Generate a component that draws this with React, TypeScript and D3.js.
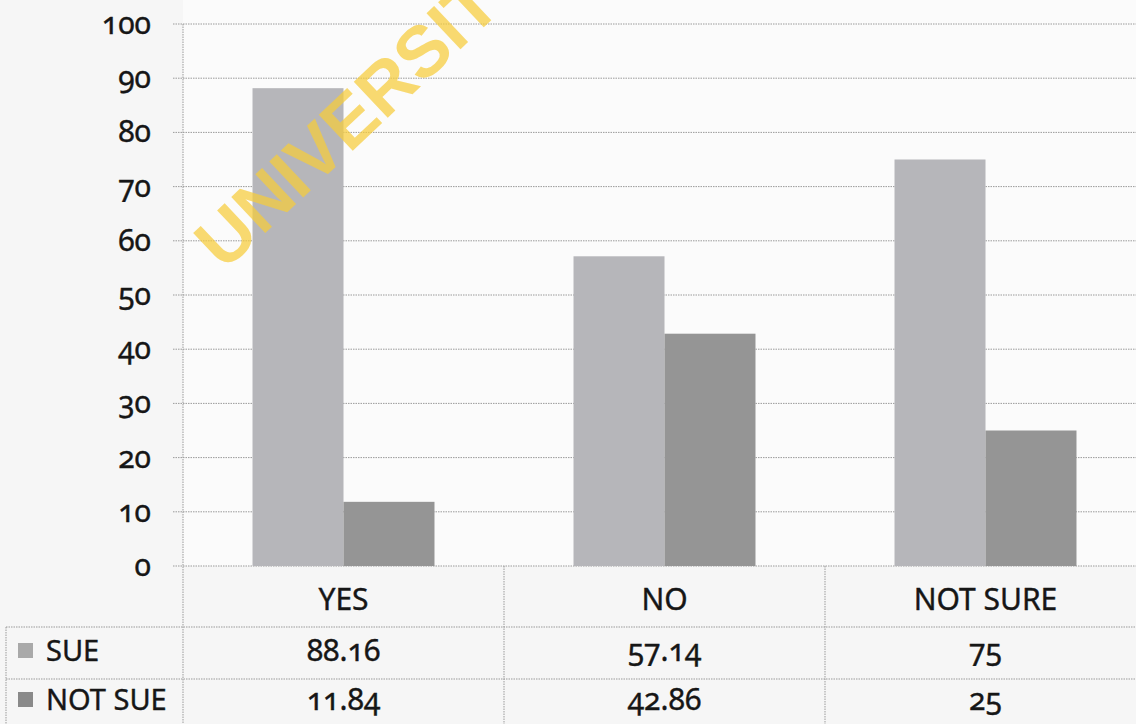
import React from "react";
import * as d3 from "d3";

const categories = ["YES", "NO", "NOT SURE"];
const seriesNames = ["SUE", "NOT SUE"];
const sueValues = [88.16, 57.14, 75];
const notSueValues = [11.84, 42.86, 25];
const sueLabels = ["88.16", "57.14", "75"];
const notSueLabels = ["11.84", "42.86", "25"];
const yTicks = [0, 10, 20, 30, 40, 50, 60, 70, 80, 90, 100];

const W = 1136;
const H = 724;
const plotLeft = 183;
const bandW = 321;
const y0 = 566;
const y100 = 24;
const colors = ["#b6b6ba", "#959595"];
const keyColors = ["#a9a9a9", "#8a8a8a"];
const FONT = "'Noto Sans', sans-serif";
const INK = "#161616";

export default function App() {
  const x0 = d3
    .scaleBand<string>()
    .domain(categories)
    .range([plotLeft, plotLeft + bandW * categories.length])
    .padding(0);
  const x1 = d3
    .scaleBand<string>()
    .domain(seriesNames)
    .range([0, x0.bandwidth()])
    .paddingInner(0)
    .paddingOuter(0.764);
  const y = d3.scaleLinear().domain([0, 100]).range([y0, y100]);
  const series = [sueValues, notSueValues];
  const rowLabels = [sueLabels, notSueLabels];
  const rowTop = [627, 679];
  const rowBase = [661, 710];

  const grid = "#9a9a9a";
  const textStyle = { fontVariantNumeric: "oldstyle-nums" as const };

  return (
    <svg
      width={W}
      height={H}
      style={{ position: "fixed", left: 0, top: 0, display: "block", background: "#f6f6f6" }}
      fontFamily={FONT}
    >
      <rect x={plotLeft} y={0} width={W - plotLeft} height={y0} fill="#fbfbfb" />
      {/* gridlines */}
      {yTicks.map((t) => (
        <g key={t}>
          <line
            x1={plotLeft - 10}
            x2={W}
            y1={y(t)}
            y2={y(t)}
            stroke={grid}
            strokeWidth={1}
            strokeDasharray="1.5 1"
          />
          <text
            x={151}
            y={y(t) + 10}
            textAnchor="end"
            fontSize={30}
            fill={INK}
            stroke={INK}
            strokeWidth={0.4}
            style={textStyle}
          >
            {t}
          </text>
        </g>
      ))}
      {/* vertical axis */}
      <line x1={plotLeft} x2={plotLeft} y1={y100} y2={H} stroke={grid} strokeDasharray="1.5 1" />
      {/* bars */}
      {categories.map((c, i) => (
        <g key={c} transform={`translate(${x0(c)},0)`}>
          {seriesNames.map((s, j) => (
            <rect
              key={s}
              x={x1(s)}
              y={y(series[j][i])}
              width={x1.bandwidth()}
              height={y0 - y(series[j][i])}
              fill={colors[j]}
            />
          ))}
        </g>
      ))}
      {/* table lines */}
      {categories.slice(1).map((c) => (
        <line key={c} x1={x0(c)} x2={x0(c)} y1={y0} y2={H} stroke={grid} strokeDasharray="1.5 1" />
      ))}
      <line x1={6} x2={6} y1={rowTop[0]} y2={H} stroke={grid} strokeDasharray="1.5 1" />
      {rowTop.map((r) => (
        <line key={r} x1={6} x2={W} y1={r} y2={r} stroke={grid} strokeDasharray="1.5 1" />
      ))}
      {/* category labels */}
      {categories.map((c) => (
        <text
          key={c}
          x={(x0(c) as number) + x0.bandwidth() / 2}
          y={610}
          textAnchor="middle"
          fontSize={30}
          fill={INK}
          stroke={INK}
          strokeWidth={0.4}
        >
          {c}
        </text>
      ))}
      {/* legend + values */}
      {seriesNames.map((s, j) => (
        <g key={s}>
          <rect x={18} y={rowBase[j] - 18} width={15} height={15} fill={keyColors[j]} />
          <text x={46} y={rowBase[j]} fontSize={29} fill={INK} stroke={INK} strokeWidth={0.4}>
            {s}
          </text>
          {categories.map((c, i) => (
            <text
              key={c}
              x={(x0(c) as number) + x0.bandwidth() / 2}
              y={rowBase[j]}
              textAnchor="middle"
              fontSize={30}
              fill={INK}
              stroke={INK}
              strokeWidth={0.4}
              style={textStyle}
            >
              {rowLabels[j][i]}
            </text>
          ))}
        </g>
      ))}
      {/* watermark */}
      <text
        transform="translate(224,272) rotate(-43.3)"
        fontFamily="'Liberation Sans', Arial, sans-serif"
        fontWeight="bold"
        fontSize={72}
        fill="#f7cd3c"
        opacity={0.72}
      >
        UNIVERSITY
      </text>
    </svg>
  );
}
